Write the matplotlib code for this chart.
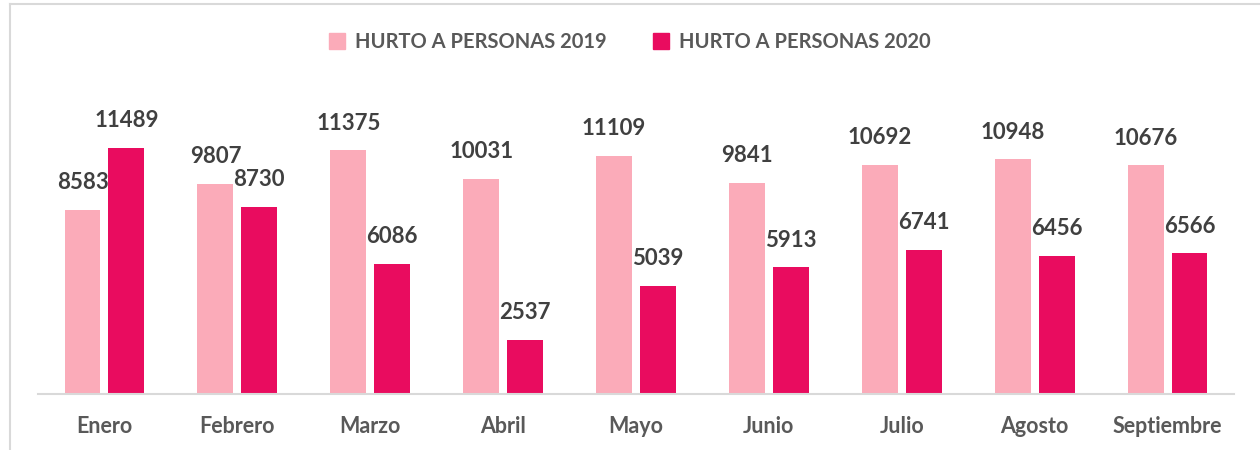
import matplotlib.pyplot as plt
import numpy as np
from matplotlib.lines import Line2D
from matplotlib.patches import Patch

plt.rcParams["font.family"] = ["Lato", "DejaVu Sans"]

meses = ["Enero", "Febrero", "Marzo", "Abril", "Mayo", "Junio", "Julio", "Agosto", "Septiembre"]
hurto_2019 = [8583, 9807, 11375, 10031, 11109, 9841, 10692, 10948, 10676]
hurto_2020 = [11489, 8730, 6086, 2537, 5039, 5913, 6741, 6456, 6566]
series = ["HURTO A PERSONAS 2019", "HURTO A PERSONAS 2020"]

color_2019 = "#FBABB9"
color_2020 = "#E90C5F"
label_color = "#404040"
tick_color = "#595959"

fig = plt.figure(figsize=(12.6, 4.5), dpi=100)
ax = fig.add_axes([38 / 1260, 1 - 394 / 450, (1234 - 38) / 1260, 300 / 450])

x = np.arange(len(meses))
ancho = 0.27
desp = 0.165

b1 = ax.bar(x - desp, hurto_2019, ancho, color=color_2019)
b2 = ax.bar(x + desp, hurto_2020, ancho, color=color_2020)

for barras in (b1, b2):
    for rect in barras:
        ax.annotate(f"{int(rect.get_height())}",
                    (rect.get_x() + rect.get_width() / 2, rect.get_height()),
                    xytext=(0, 12), textcoords="offset points",
                    ha="center", va="bottom", fontsize=16, fontweight="bold",
                    color=label_color)

ax.set_xlim(-0.5, len(meses) - 0.5)
ax.set_ylim(0, 14000)
ax.set_xticks(x)
ax.set_xticklabels(meses, fontsize=15.5, fontweight="bold", color=tick_color)
ax.tick_params(axis="x", length=0, pad=16)
ax.set_yticks([])
for lado in ["top", "right", "left"]:
    ax.spines[lado].set_visible(False)
ax.spines["bottom"].set_color("#D9D9D9")
ax.spines["bottom"].set_linewidth(1.5)

handles = [Patch(color=color_2019), Patch(color=color_2020)]
leg = fig.legend(handles, series, loc="center", bbox_to_anchor=(0.5, 1 - 42 / 450),
                 ncol=2, frameon=False, handlelength=0.8, handleheight=0.8,
                 handletextpad=0.5, columnspacing=2.3,
                 prop={"size": 14.5, "weight": "bold"})
for t in leg.get_texts():
    t.set_color(tick_color)

# marco del grafico
fig.add_artist(Line2D([10 / 1260, 1], [1 - 4 / 450, 1 - 4 / 450], color="#D9D9D9", lw=1.5))
fig.add_artist(Line2D([10 / 1260, 10 / 1260], [0, 1 - 4 / 450], color="#D9D9D9", lw=1.5))

fig.savefig("out.png", dpi=100)
